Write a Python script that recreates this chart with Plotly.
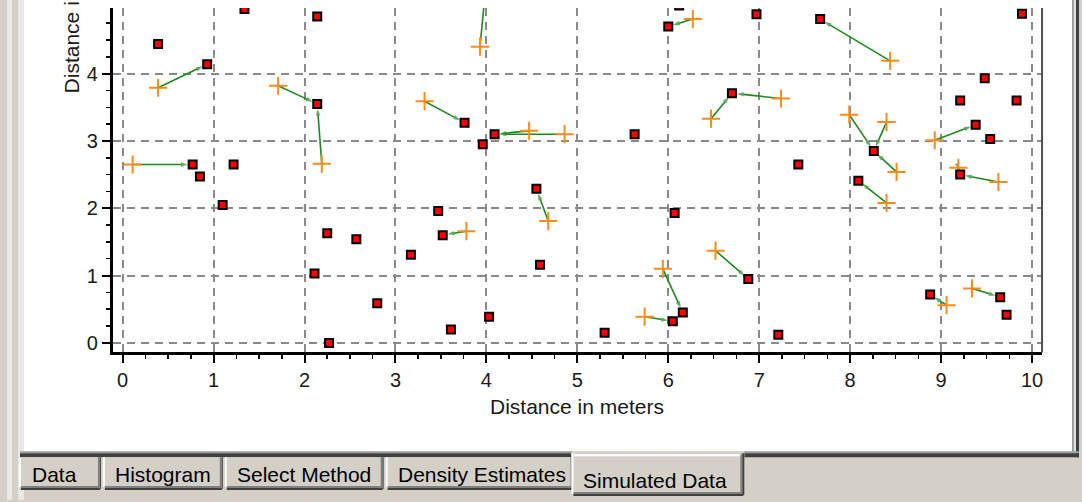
import plotly.graph_objects as go

# ---------------- data ----------------
# observed locations (red squares)
obs_x = [1.34, 0.39, 0.93, 2.14, 2.14, 0.77, 0.85, 1.22, 1.10, 2.25,
         2.57, 2.11, 2.27, 3.76, 4.09, 3.96, 5.63, 6.00, 6.12, 3.99,
         4.55, 6.70, 6.97, 7.67, 9.89, 9.48, 9.21, 9.83, 9.38, 9.54,
         8.26, 7.43, 9.21, 8.09, 3.47, 3.52, 3.17, 2.80, 3.61, 4.03,
         4.59, 5.30, 6.07, 6.16, 6.05, 6.88, 7.21, 8.88, 9.65, 9.72]
obs_y = [4.96, 4.44, 4.14, 4.85, 3.55, 2.65, 2.47, 2.65, 2.05, 1.63,
         1.54, 1.03, 0.00, 3.27, 3.10, 2.95, 3.10, 4.70, 5.01, 5.25,
         2.29, 3.71, 4.88, 4.81, 4.89, 3.93, 3.60, 3.60, 3.24, 3.03,
         2.85, 2.65, 2.50, 2.41, 1.96, 1.60, 1.31, 0.59, 0.20, 0.39,
         1.16, 0.15, 1.93, 0.45, 0.32, 0.95, 0.12, 0.72, 0.68, 0.42]

# simulated locations (orange crosses) and the observed point each one moves to
sim_x = [0.39, 1.71, 2.19, 0.11, 3.93, 3.32, 4.47, 4.86, 6.27, 4.68,
         6.47, 7.24, 8.44, 8.93, 7.99, 8.40, 8.51, 9.19, 9.63, 8.40,
         3.78, 5.94, 5.74, 6.52, 9.06, 9.34]
sim_y = [3.79, 3.82, 2.66, 2.65, 4.40, 3.59, 3.15, 3.10, 4.81, 1.81,
         3.33, 3.63, 4.19, 3.01, 3.39, 3.28, 2.54, 2.60, 2.39, 2.08,
         1.66, 1.10, 0.39, 1.37, 0.56, 0.81]
sim_target = [2, 4, 4, 5, 19, 13, 14, 14, 17, 20,
              21, 21, 23, 28, 30, 30, 30, 32, 32, 33,
              35, 43, 44, 45, 47, 48]

x_title = "Distance in meters"
y_title = "Distance in meters"
tab_labels = ["Data", "Histogram", "Select Method", "Density Estimates", "Simulated Data"]

# ---------------- helpers ----------------
W, H = 1082, 502
def px(x):
    return x / W
def py(y):
    return 1 - y / H

FONT = "Liberation Sans, Arial, sans-serif"
GREEN = "#1f8a1f"
ORANGE = "#ff8c1a"
GRAY = "#d4d0c8"
DARK = "#404040"

link_x, link_y, head_size = [], [], []
for sx, sy, t in zip(sim_x, sim_y, sim_target):
    link_x += [sx, obs_x[t], None]
    link_y += [sy, obs_y[t], None]
    head_size += [0, 7, 0]

fig = go.Figure()
fig.add_trace(go.Scatter(
    x=link_x, y=link_y, mode="lines+markers",
    line=dict(color=GREEN, width=1.6),
    marker=dict(symbol="arrow", size=head_size, color=GREEN,
                angleref="previous", standoff=5, line=dict(width=0)),
    hoverinfo="skip", showlegend=False, cliponaxis=True))
fig.add_trace(go.Scatter(
    x=sim_x, y=sim_y, mode="markers",
    marker=dict(symbol="cross-thin", size=13, line=dict(color=ORANGE, width=2)),
    showlegend=False, cliponaxis=True))
fig.add_trace(go.Scatter(
    x=obs_x, y=obs_y, mode="markers",
    marker=dict(symbol="square", size=8, color="#ff0000",
                line=dict(color="#000000", width=2)),
    showlegend=False, cliponaxis=True))

axis_common = dict(
    tickmode="linear", tick0=0, dtick=1,
    ticks="outside", ticklen=8, tickwidth=2, tickcolor="#000",
    showline=True, linewidth=3, linecolor="#000",
    showgrid=True, gridcolor="#8a8a8a", gridwidth=2, griddash="8px,6px",
    zeroline=False,
    minor=dict(dtick=0.25, ticks="outside", ticklen=4, tickwidth=1.5,
               tickcolor="#000", showgrid=False),
    tickfont=dict(family=FONT, size=20, color="#1a1a1a"),
    fixedrange=True,
)

fig.update_layout(
    width=W, height=H,
    margin=dict(l=0, r=0, t=0, b=0),
    paper_bgcolor=GRAY, plot_bgcolor="#ffffff",
    xaxis=dict(domain=[px(113), px(1043)], range=[-0.107, 10.11], **axis_common),
    yaxis=dict(domain=[py(353), py(8)], range=[-0.129, 4.975], **axis_common),
)

shapes = []
def rect(x0, y0, x1, y1, color, layer="below"):
    shapes.append(dict(type="rect", xref="paper", yref="paper",
                       x0=px(x0), x1=px(x1), y0=py(y1), y1=py(y0),
                       fillcolor=color, line=dict(width=0), layer=layer))

# window chrome
rect(7, 0, 12, 502, "#ebe9e4")
rect(18, 0, 24, 502, "#e9e8e4")
rect(24, 0, 1073, 453, "#ffffff")
rect(1073, 0, 1075, 458, "#a0a0a0")
rect(1075, 0, 1077, 458, "#e4e2dd")
rect(1077, 0, 1080, 459, DARK)
rect(20, 453, 572, 455, "#a0a0a0")
rect(20, 455, 572, 459, DARK)
rect(745, 453, 1080, 455, "#a0a0a0")
rect(745, 455, 1080, 459, DARK)

# unselected tabs
tabs = [(19, 101), (103, 223), (225, 384), (386, 574)]
for x0, x1 in tabs:
    rect(x0, 459, x1, 492, GRAY)
    rect(x0, 459, x0 + 2, 489, "#ffffff")
    rect(x0 + 2, 488, x1 - 2, 490, "#808080")
    rect(x0 + 2, 490, x1 - 1, 492, DARK)
    rect(x1 - 3, 459, x1 - 1, 490, "#808080")
    rect(x1 - 1, 459, x1, 491, DARK)
# selected tab
sx0, sx1 = 572, 745
rect(sx0, 455, sx1, 498, GRAY)
rect(sx0, 455, sx0 + 2, 496, "#ffffff")
rect(sx0 + 2, 456, sx1 - 3, 458, "#ffffff")
rect(sx0 + 2, 494, sx1 - 2, 496, "#808080")
rect(sx0 + 2, 496, sx1 - 1, 498, DARK)
rect(sx1 - 4, 456, sx1 - 2, 496, "#808080")
rect(sx1 - 2, 455, sx1, 497, DARK)

# plot right border
shapes.append(dict(type="line", xref="paper", yref="paper",
                   x0=px(1043), x1=px(1043), y0=py(354), y1=py(8),
                   line=dict(color="#505050", width=2), layer="above"))

fig.update_layout(shapes=shapes)

ann = []
ann.append(dict(text=x_title, xref="paper", yref="paper", x=px(578), y=py(408),
                xanchor="center", yanchor="middle", showarrow=False,
                font=dict(family=FONT, size=21, color="#1a1a1a")))
ann.append(dict(text=y_title, xref="paper", yref="paper", x=px(72.5), y=py(6),
                xanchor="center", yanchor="middle", showarrow=False, textangle=-90,
                font=dict(family=FONT, size=21, color="#1a1a1a")))
tab_centers = [(55, 476), (163, 476), (304, 476), (482, 476), (656, 482)]
for label, (cx, cy) in zip(tab_labels, tab_centers):
    ann.append(dict(text=label, xref="paper", yref="paper", x=px(cx), y=py(cy),
                    xanchor="center", yanchor="middle", showarrow=False,
                    font=dict(family=FONT, size=21, color="#000000")))
fig.update_layout(annotations=ann)

fig.write_html(
    "out.html",
    config={"displayModeBar": False, "staticPlot": True},
    post_script="document.body.style.margin='0';document.body.style.overflow='hidden';",
)
